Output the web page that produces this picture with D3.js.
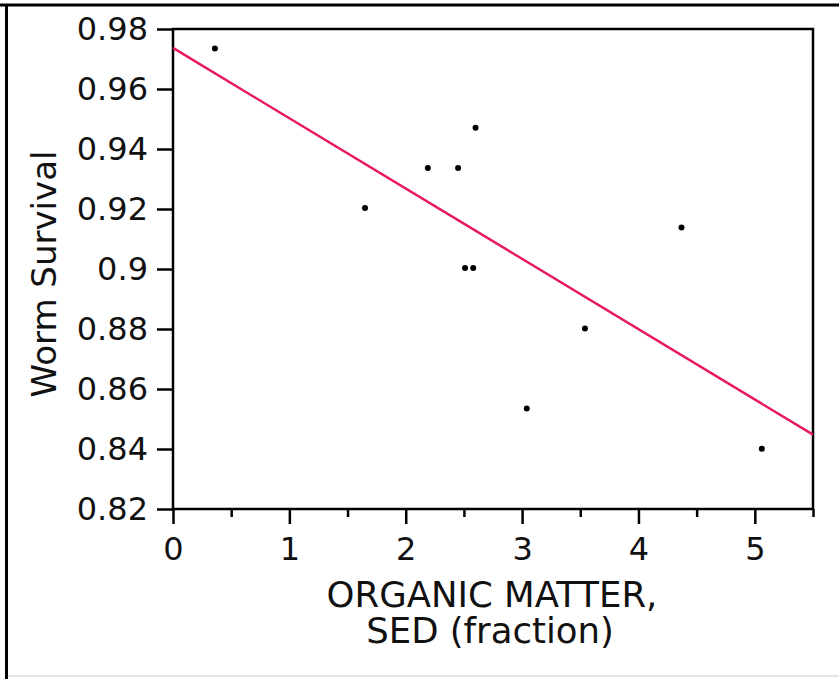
<!DOCTYPE html>
<html>
<head>
<meta charset="utf-8">
<script src="https://cdn.jsdelivr.net/npm/d3@7"></script>
<style>
  html, body { margin: 0; padding: 0; background: #fff; }
  svg { display: block; font-family: "DejaVu Sans", "Noto Sans", sans-serif; }
</style>
</head>
<body>
<div id="chart"></div>
<script>
// organic matter (x) vs worm survival (y)
var organicMatter = [0.36, 1.65, 2.19, 2.45, 2.60, 2.51, 2.58, 3.54, 3.04, 4.37, 5.06];
var wormSurvival  = [0.9735, 0.9203, 0.9337, 0.9337, 0.9471, 0.9003, 0.9003, 0.8802, 0.8535, 0.9138, 0.8401];
// fitted line end points
var fitX = [0, 5.5];
var fitY = [0.9737, 0.8448];
var xTicks = [0, 1, 2, 3, 4, 5];
var xMinorTicks = [0.5, 1.5, 2.5, 3.5, 4.5, 5.5];
var yTicks = [0.82, 0.84, 0.86, 0.88, 0.90, 0.92, 0.94, 0.96, 0.98];

var width = 839, height = 679;
var margin = {top: 29, right: 26, bottom: 170, left: 173};

var createGraph = function createGraph() {
    var svg = d3.select('#chart').append('svg')
                .attr('width', width)
                .attr('height', height);

    // outer frame (top and left only visible, faint bottom edge)
    svg.append('line').attr('x1', 0).attr('x2', width).attr('y1', 5).attr('y2', 5)
       .attr('stroke', '#000').attr('stroke-width', 3);
    svg.append('line').attr('x1', 6.5).attr('x2', 6.5).attr('y1', 4).attr('y2', height)
       .attr('stroke', '#000').attr('stroke-width', 3);
    svg.append('line').attr('x1', 8).attr('x2', width).attr('y1', 676).attr('y2', 676)
       .attr('stroke', '#e4e4e4').attr('stroke-width', 2);

    var graphWidth = width - margin.left - margin.right;
    var graphHeight = height - margin.top - margin.bottom;

    var x = d3.scaleLinear().domain([0, 5.5]).range([0, graphWidth]);
    var y = d3.scaleLinear().domain([0.82, 0.98]).range([graphHeight, 0]);

    var graph = svg.append('g')
                   .attr('transform', 'translate(' + margin.left + ', ' + margin.top + ')');

    // frame around plot
    graph.append('rect')
         .attr('width', graphWidth).attr('height', graphHeight)
         .attr('fill', 'none').attr('stroke', '#000').attr('stroke-width', 2.5);

    var xAxis = d3.axisBottom(x).tickValues(xTicks).tickSize(15).tickPadding(13)
                  .tickFormat(d3.format('d'));
    var xMinor = d3.axisBottom(x).tickValues(xMinorTicks).tickSize(8).tickFormat('');
    var yAxis = d3.axisLeft(y).tickValues(yTicks).tickSize(16).tickPadding(9)
                  .tickFormat(function(d) { return d3.format('.2f')(d).replace(/0$/, ''); });

    var gx = graph.append('g').attr('transform', 'translate(0,' + graphHeight + ')').call(xAxis);
    var gxm = graph.append('g').attr('transform', 'translate(0,' + graphHeight + ')').call(xMinor);
    var gy = graph.append('g').call(yAxis);

    [gx, gxm, gy].forEach(function(g) {
        g.select('.domain').remove();
        g.selectAll('.tick line').attr('stroke', '#000').attr('stroke-width', 2.5);
        g.selectAll('.tick text').attr('fill', '#111')
         .style('font-family', '"DejaVu Sans", "Noto Sans", sans-serif')
         .style('font-size', '32px');
    });

    // regression line
    graph.append('line')
         .attr('x1', x(fitX[0])).attr('y1', y(fitY[0]))
         .attr('x2', x(fitX[1])).attr('y2', y(fitY[1]))
         .attr('stroke', '#e8195c').attr('stroke-width', 2.4);

    // points
    graph.selectAll('circle.pt')
         .data(organicMatter)
         .enter().append('circle')
         .attr('class', 'pt')
         .attr('cx', function(d) { return x(d); })
         .attr('cy', function(d, i) { return y(wormSurvival[i]); })
         .attr('r', 3)
         .attr('fill', '#000');

    // axis titles
    var xt = svg.append('text')
                .attr('text-anchor', 'middle')
                .attr('fill', '#111')
                .style('font-size', '35.5px');
    xt.append('tspan').attr('x', 492).attr('y', 607).text('ORGANIC MATTER,');
    xt.append('tspan').attr('x', 490).attr('y', 643).text('SED (fraction)');

    svg.append('text')
       .attr('transform', 'translate(56, 274) rotate(-90)')
       .attr('text-anchor', 'middle')
       .attr('fill', '#111')
       .style('font-size', '34px')
       .text('Worm Survival');
}

createGraph();
</script>
</body>
</html>
